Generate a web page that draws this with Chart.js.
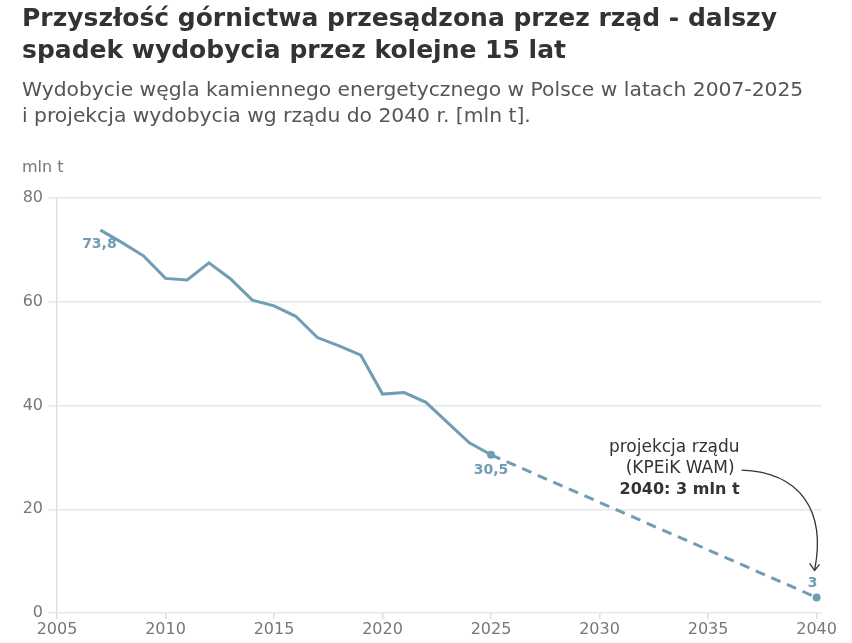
<!DOCTYPE html>
<html>
<head>
<meta charset="utf-8">
<script src="https://cdn.jsdelivr.net/npm/chart.js@4/dist/chart.umd.min.js"></script>
<style>
  html, body { margin: 0; padding: 0; background: #fff; }
  #wrap { position: relative; width: 852px; height: 643px; }
  #head { position: absolute; left: 22px; top: 0; font-family: "DejaVu Sans", sans-serif; }
  h1 { margin: 0; padding-top: 2px; font-size: 25px; line-height: 32px; font-weight: 700; color: #333; }
  p.sub { margin: 10px 0 0 0; font-size: 20.3px; line-height: 26px; color: #555; }
  #box { position: absolute; left: 0; top: 0; width: 852px; height: 643px; }
</style>
</head>
<body>
<div id="wrap">
  <div id="box"><canvas id="myChart"></canvas></div>
  <div id="head">
    <h1>Przyszłość górnictwa przesądzona przez rząd - dalszy<br>spadek wydobycia przez kolejne 15 lat</h1>
    <p class="sub">Wydobycie węgla kamiennego energetycznego w Polsce w latach 2007-2025<br>i projekcja wydobycia wg rządu do 2040 r. [mln t].</p>
  </div>
</div>
<script>
var years = [2007, 2008, 2009, 2010, 2011, 2012, 2013, 2014, 2015, 2016,
             2017, 2018, 2019, 2020, 2021, 2022, 2023, 2024, 2025];
var output = [73.8, 71.4, 68.8, 64.5, 64.2, 67.5, 64.4, 60.3, 59.2, 57.2,
              53.1, 51.5, 49.7, 42.2, 42.5, 40.6, 36.7, 32.8, 30.5];
var projYears = [2025, 2040];
var projValues = [30.5, 3];
var xTicks = [2005, 2010, 2015, 2020, 2025, 2030, 2035, 2040];
var yTicks = [0, 20, 40, 60, 80];

var lineColor = "#6f9db3";
var font = "'DejaVu Sans', sans-serif";

function pts(xs, ys) {
    return xs.map(function(x, i) { return { x: x, y: ys[i] }; });
}

// labels, axis title and the arrow note
var notes = {
    id: "notes",
    afterDatasetsDraw: function(chart) {
        var c = chart.ctx;
        var xs = chart.scales.x, ys = chart.scales.y;
        var hist = chart.getDatasetMeta(0).data;
        var proj = chart.getDatasetMeta(1).data;
        c.save();
        c.fillStyle = lineColor;
        c.font = "bold 14px " + font;
        c.textAlign = "center";
        c.textBaseline = "middle";
        var p0 = hist[0];
        c.fillText("73,8", p0.x - 1, p0.y + 14);
        var p1 = hist[hist.length - 1];
        c.fillText("30,5", p1.x, p1.y + 16);
        var p2 = proj[proj.length - 1];
        c.fillText("3", p2.x - 4, p2.y - 14);

        // unit label
        c.fillStyle = "#777";
        c.font = "16px " + font;
        c.textAlign = "left";
        c.fillText("mln t", 22, ys.top - 30);

        // projection note
        var tx = xs.getPixelForValue(2036.45);
        var ty = ys.getPixelForValue(31.8);
        c.textAlign = "right";
        c.fillStyle = "#333";
        c.font = "17px " + font;
        c.fillText("projekcja rządu", tx, ty);
        c.fillText("(KPEiK WAM)", tx - 5, ty + 21);
        c.font = "bold 16px " + font;
        c.fillText("2040: 3 mln t", tx, ty + 42);

        // curved arrow
        var sx = tx + 2, sy = ty + 22;
        var ex = p2.x - 2, ey = p2.y - 27;
        c.strokeStyle = "#333";
        c.lineWidth = 1.3;
        c.beginPath();
        c.moveTo(sx, sy);
        c.bezierCurveTo(sx + 58, sy + 2, ex + 12, sy + 40, ex, ey);
        c.stroke();
        c.beginPath();
        c.moveTo(ex - 5, ey - 7);
        c.lineTo(ex, ey);
        c.lineTo(ex + 5, ey - 6);
        c.stroke();
        c.restore();
    }
};

var ctx = document.getElementById("myChart");

var data = {
    datasets: [
        {
            label: "Wydobycie",
            data: pts(years, output),
            borderColor: lineColor,
            backgroundColor: lineColor,
            borderWidth: 3,
            fill: false,
            tension: 0,
            pointRadius: 0
        },
        {
            label: "Projekcja",
            data: pts(projYears, projValues),
            borderColor: lineColor,
            backgroundColor: lineColor,
            borderWidth: 3,
            borderDash: [10, 7],
            fill: false,
            tension: 0,
            pointRadius: 4,
            pointBorderWidth: 0
        }
    ]
};

var options = {
    responsive: true,
    maintainAspectRatio: false,
    animation: false,
    layout: { padding: { left: 0, top: 198, right: 30, bottom: 0 } },
    plugins: {
        legend: { display: false },
        tooltip: { enabled: false },
        title: { display: false }
    },
    scales: {
        x: {
            type: "linear",
            min: 2005,
            max: 2040.25,
            afterBuildTicks: function(s) { s.ticks = xTicks.map(function(v) { return { value: v }; }); },
            afterFit: function(s) { s.height = 30; },
            grid: { drawOnChartArea: false, drawTicks: true, tickLength: 6, color: "#dedede", lineWidth: 1.5 },
            border: { display: false },
            ticks: {
                color: "#777",
                font: { family: font, size: 16 },
                padding: 1,
                maxRotation: 0,
                callback: function(v) { return String(v); }
            }
        },
        y: {
            min: 0,
            max: 80,
            afterBuildTicks: function(s) { s.ticks = yTicks.map(function(v) { return { value: v }; }); },
            afterFit: function(s) { s.width = 57; },
            grid: { color: "#e8e8e8", lineWidth: 1.5, tickLength: 9 },
            border: { display: true, color: "#e0e0e0", width: 1.5 },
            ticks: {
                color: "#777",
                font: { family: font, size: 16 },
                padding: 5
            }
        }
    }
};

var lineChart = new Chart(ctx, {
    type: "line",
    data: data,
    options: options,
    plugins: [notes]
});
</script>
</body>
</html>
